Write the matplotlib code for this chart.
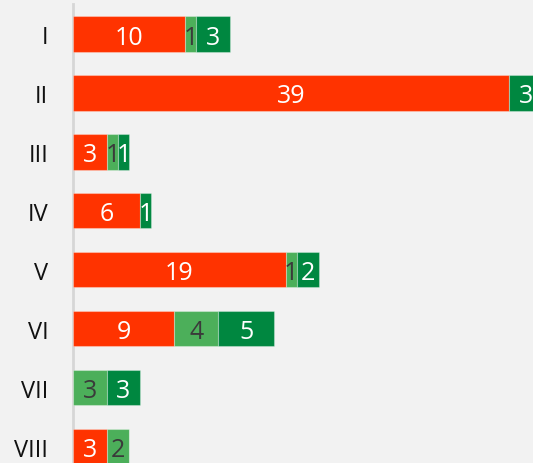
import matplotlib
matplotlib.use("Agg")
import matplotlib.pyplot as plt
import numpy as np

plt.rcParams['font.family'] = ['Open Sans', 'DejaVu Sans']

categories = ["I", "II", "III", "IV", "V", "VI", "VII", "VIII"]
red_vals = [10, 39, 3, 6, 19, 9, 0, 3]
light_vals = [1, 0, 1, 0, 1, 4, 3, 2]
dark_vals = [3, 3, 1, 1, 2, 5, 3, 0]

colors = ["#FF3300", "#4CAF5A", "#008740"]
text_colors = ["white", "#3a3a3a", "white"]

bg = "#F2F2F2"
fig = plt.figure(figsize=(5.33, 4.64), dpi=100, facecolor=bg)
ax = fig.add_axes([73.3 / 533, 0, 1 - 73.3 / 533, 1])
ax.set_facecolor(bg)

y = np.arange(len(categories))
left = np.zeros(len(categories))
for vals, col, tcol in zip([red_vals, light_vals, dark_vals], colors, text_colors):
    vals = np.array(vals, dtype=float)
    ax.barh(y, vals, left=left, height=0.6, color=col,
            edgecolor=(1, 1, 1, 0.3), linewidth=0.8, zorder=3)
    for yi, (l, v) in enumerate(zip(left, vals)):
        if v > 0:
            ax.text(l + v / 2, yi, f"{int(v)}", ha="center", va="center_baseline",
                    color=tcol, fontsize=18, zorder=4)
    left += vals

ax.set_xlim(0, 41.16)
ax.set_ylim(7.28, -0.594)
ax.set_yticks(y)
ax.set_yticklabels(categories, fontsize=17, color="#111111")
ax.tick_params(axis="y", length=0, pad=18)
ax.set_xticks([])
for s in ["top", "right", "bottom"]:
    ax.spines[s].set_visible(False)
ax.spines["left"].set_color("#d6d6d6")
ax.spines["left"].set_linewidth(2)
ax.spines["left"].set_bounds(7.28, -0.51)

fig.savefig("out.png", dpi=100, facecolor=bg)
